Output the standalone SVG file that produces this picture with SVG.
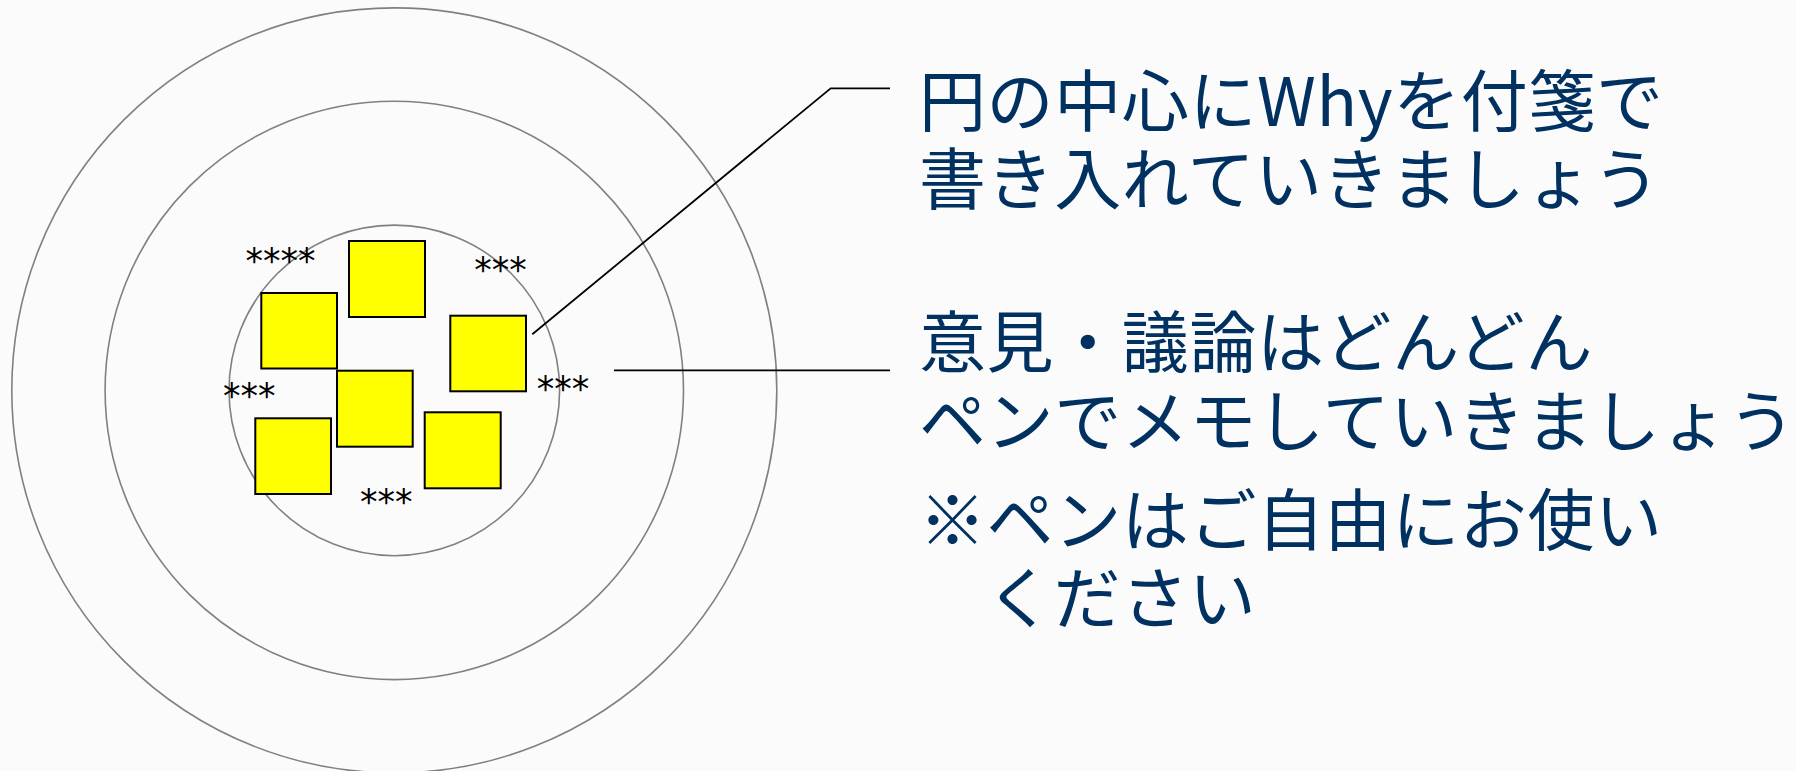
<svg xmlns="http://www.w3.org/2000/svg" width="1796" height="771" viewBox="0 0 1796 771">
<style>
.ring{fill:none;stroke:#808080;stroke-width:1.6}
.note{fill:#ffff00;stroke:#000;stroke-width:2}
.ast{font-family:"DejaVu Sans",sans-serif;font-size:35px;fill:#000;text-anchor:middle}
.lbl{font-family:"Noto Sans CJK JP","Noto Sans",sans-serif;font-size:67px;letter-spacing:0.6px;fill:#003160}
.conn{fill:none;stroke:#000;stroke-width:1.8}
</style>
<rect width="1796" height="771" fill="#fbfbfb"/>
<g id="rings">
<circle class="ring" cx="394.3" cy="390.4" r="382.5"/>
<circle class="ring" cx="394.3" cy="390.4" r="289.2"/>
<circle class="ring" cx="394.3" cy="390.4" r="165.3"/>
</g>
<g id="notes">
<rect id="note1" class="note" x="349" y="241" width="76" height="76"/>
<rect id="note2" class="note" x="261.3" y="293" width="75.7" height="75.5"/>
<rect id="note3" class="note" x="450.3" y="315.7" width="75.7" height="75.6"/>
<rect id="note4" class="note" x="337" y="370.7" width="75.7" height="76"/>
<rect id="note5" class="note" x="255.3" y="418.3" width="75.7" height="75.7"/>
<rect id="note6" class="note" x="424.7" y="412.3" width="76" height="76"/>
</g>
<g id="memos">
<text class="ast" x="280.5" y="272.5">****</text>
<text class="ast" x="500.5" y="281.5">***</text>
<text class="ast" x="249.2" y="408">***</text>
<text class="ast" x="562.9" y="400.5">***</text>
<text class="ast" x="386.3" y="513.5">***</text>
</g>
<g id="connectors">
<polyline class="conn" points="532.3,334.3 830.7,88.3 890,88.3"/>
<line class="conn" x1="614" y1="370.3" x2="890" y2="370.3"/>
</g>
<g id="label1">
<text class="lbl" x="919" y="126">円の中心にWhyを付箋で</text>
<text class="lbl" x="919" y="204">書き入れていきましょう</text>
</g>
<g id="label2">
<text class="lbl" x="919" y="367">意見・議論はどんどん</text>
<text class="lbl" x="919" y="446">ペンでメモしていきましょう</text>
</g>
<g id="label3">
<text class="lbl" x="919" y="545">※ペンはご自由にお使い</text>
<text class="lbl" x="986" y="623">ください</text>
</g>
</svg>
